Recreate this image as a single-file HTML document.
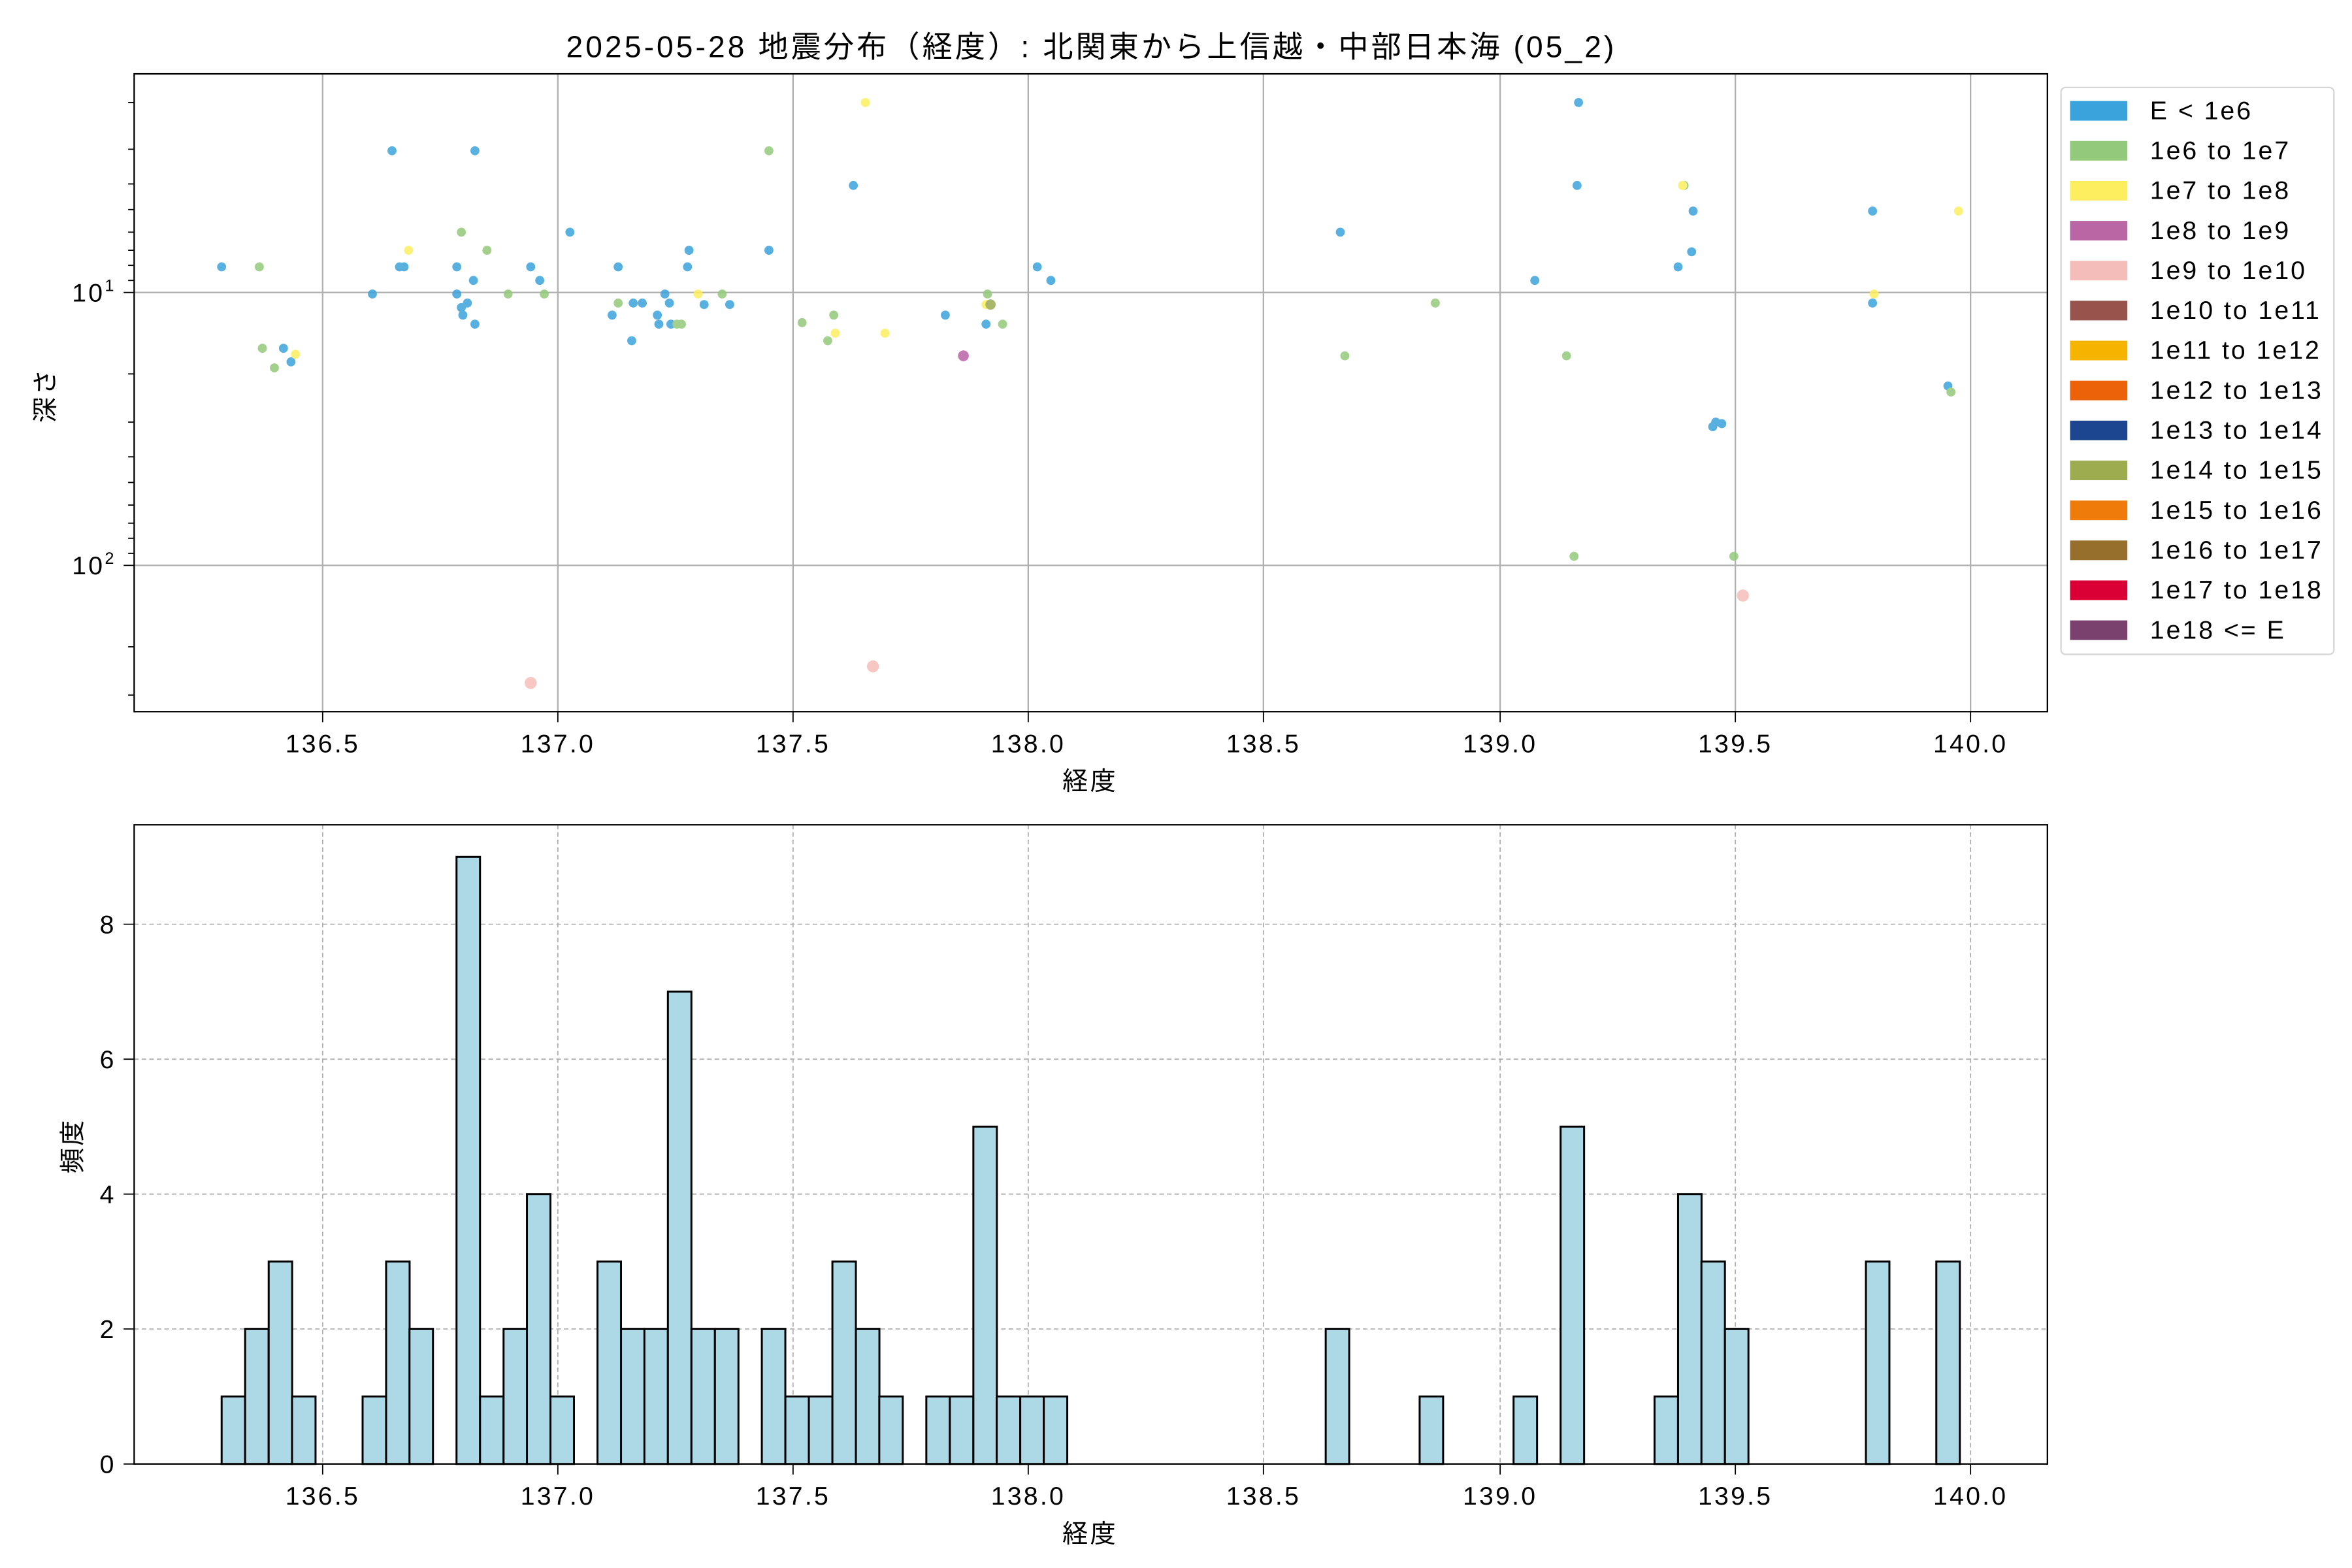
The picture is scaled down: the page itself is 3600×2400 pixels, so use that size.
<!DOCTYPE html>
<html><head><meta charset="utf-8"><style>html,body{margin:0;padding:0;background:#fff}svg{display:block}text{font-family:"Liberation Sans","Noto Sans CJK JP",sans-serif;fill:#000}</style></head><body>
<svg width="3600" height="2400" viewBox="0 0 1560 1040" xmlns="http://www.w3.org/2000/svg">
<rect width="1560" height="1040" fill="#fff"/>
<text x="723" y="38" font-size="20" text-anchor="middle" textLength="695" lengthAdjust="spacing">2025-05-28 地震分布（経度）: 北関東から上信越・中部日本海 (05_2)</text>
<!-- top axes -->
<g stroke="#b0b0b0" stroke-width="1">
<line x1="214" y1="49" x2="214" y2="472"/><line x1="370" y1="49" x2="370" y2="472"/><line x1="526" y1="49" x2="526" y2="472"/><line x1="682" y1="49" x2="682" y2="472"/><line x1="838" y1="49" x2="838" y2="472"/><line x1="995" y1="49" x2="995" y2="472"/><line x1="1151" y1="49" x2="1151" y2="472"/><line x1="1307" y1="49" x2="1307" y2="472"/>
<line x1="89" y1="194" x2="1358" y2="194"/><line x1="89" y1="375" x2="1358" y2="375"/>
</g>
<g stroke="#000" stroke-width="0.8">
<line x1="85" y1="68" x2="89" y2="68"/><line x1="85" y1="99" x2="89" y2="99"/><line x1="85" y1="122" x2="89" y2="122"/><line x1="85" y1="139" x2="89" y2="139"/><line x1="85" y1="154" x2="89" y2="154"/><line x1="85" y1="166" x2="89" y2="166"/><line x1="85" y1="176" x2="89" y2="176"/><line x1="85" y1="186" x2="89" y2="186"/>
<line x1="85" y1="248" x2="89" y2="248"/><line x1="85" y1="280" x2="89" y2="280"/><line x1="85" y1="303" x2="89" y2="303"/><line x1="85" y1="320" x2="89" y2="320"/><line x1="85" y1="335" x2="89" y2="335"/><line x1="85" y1="347" x2="89" y2="347"/><line x1="85" y1="357" x2="89" y2="357"/><line x1="85" y1="367" x2="89" y2="367"/>
<line x1="85" y1="429" x2="89" y2="429"/><line x1="85" y1="461" x2="89" y2="461"/>
<line x1="82" y1="194" x2="89" y2="194"/><line x1="82" y1="375" x2="89" y2="375"/>
<line x1="214" y1="472" x2="214" y2="479"/><line x1="370" y1="472" x2="370" y2="479"/><line x1="526" y1="472" x2="526" y2="479"/><line x1="682" y1="472" x2="682" y2="479"/><line x1="838" y1="472" x2="838" y2="479"/><line x1="995" y1="472" x2="995" y2="479"/><line x1="1151" y1="472" x2="1151" y2="479"/><line x1="1307" y1="472" x2="1307" y2="479"/>
</g>
<g font-size="17" letter-spacing="1.4">
<text x="77" y="200" text-anchor="end">10<tspan font-size="11" dy="-7">1</tspan></text>
<text x="77" y="381" text-anchor="end">10<tspan font-size="11" dy="-7">2</tspan></text>
<g text-anchor="middle"><text x="214" y="499">136.5</text><text x="370" y="499">137.0</text><text x="526" y="499">137.5</text><text x="682" y="499">138.0</text><text x="838" y="499">138.5</text><text x="995" y="499">139.0</text><text x="1151" y="499">139.5</text><text x="1307" y="499">140.0</text></g>
<text x="723" y="524" text-anchor="middle">経度</text>
<text transform="translate(36,262) rotate(-90)" text-anchor="middle">深さ</text>
</g>
<g opacity="0.85">
<g fill="#3ba3dc">
<circle cx="147" cy="177" r="3"/><circle cx="188" cy="231" r="3"/><circle cx="193" cy="240" r="3"/><circle cx="247" cy="195" r="3"/><circle cx="260" cy="100" r="3"/><circle cx="265" cy="177" r="3"/><circle cx="268" cy="177" r="3"/><circle cx="303" cy="177" r="3"/><circle cx="303" cy="195" r="3"/><circle cx="306" cy="204" r="3"/><circle cx="307" cy="209" r="3"/><circle cx="310" cy="201" r="3"/><circle cx="314" cy="186" r="3"/><circle cx="315" cy="100" r="3"/><circle cx="315" cy="215" r="3"/><circle cx="352" cy="177" r="3"/><circle cx="358" cy="186" r="3"/><circle cx="378" cy="154" r="3"/><circle cx="406" cy="209" r="3"/><circle cx="410" cy="177" r="3"/><circle cx="420" cy="201" r="3"/><circle cx="426" cy="201" r="3"/><circle cx="419" cy="226" r="3"/><circle cx="436" cy="209" r="3"/><circle cx="437" cy="215" r="3"/><circle cx="441" cy="195" r="3"/><circle cx="444" cy="201" r="3"/><circle cx="445" cy="215" r="3"/><circle cx="456" cy="177" r="3"/><circle cx="457" cy="166" r="3"/><circle cx="467" cy="202" r="3"/><circle cx="484" cy="202" r="3"/><circle cx="510" cy="166" r="3"/><circle cx="566" cy="123" r="3"/><circle cx="627" cy="209" r="3"/><circle cx="654" cy="215" r="3"/><circle cx="688" cy="177" r="3"/><circle cx="697" cy="186" r="3"/><circle cx="889" cy="154" r="3"/><circle cx="1018" cy="186" r="3"/><circle cx="1047" cy="68" r="3"/><circle cx="1046" cy="123" r="3"/><circle cx="1123" cy="140" r="3"/><circle cx="1122" cy="167" r="3"/><circle cx="1113" cy="177" r="3"/><circle cx="1242" cy="201" r="3"/><circle cx="1292" cy="256" r="3"/><circle cx="1136" cy="283" r="3"/><circle cx="1142" cy="281" r="3"/><circle cx="1138" cy="280" r="3"/><circle cx="1242" cy="140" r="3"/>
</g>
<g fill="#93c97a">
<circle cx="172" cy="177" r="3"/><circle cx="174" cy="231" r="3"/><circle cx="182" cy="244" r="3"/><circle cx="306" cy="154" r="3"/><circle cx="323" cy="166" r="3"/><circle cx="337" cy="195" r="3"/><circle cx="361" cy="195" r="3"/><circle cx="410" cy="201" r="3"/><circle cx="449" cy="215" r="3"/><circle cx="452" cy="215" r="3"/><circle cx="479" cy="195" r="3"/><circle cx="510" cy="100" r="3"/><circle cx="532" cy="214" r="3"/><circle cx="553" cy="209" r="3"/><circle cx="549" cy="226" r="3"/><circle cx="655" cy="195" r="3"/><circle cx="665" cy="215" r="3"/><circle cx="892" cy="236" r="3"/><circle cx="952" cy="201" r="3"/><circle cx="1039" cy="236" r="3"/><circle cx="1044" cy="369" r="3"/><circle cx="1150" cy="369" r="3"/><circle cx="1294" cy="260" r="3"/><circle cx="1117" cy="123" r="3"/>
</g>
<g fill="#fdee60">
<circle cx="271" cy="166" r="3"/><circle cx="196" cy="235" r="3"/><circle cx="463" cy="195" r="3"/><circle cx="574" cy="68" r="3"/><circle cx="554" cy="221" r="3"/><circle cx="587" cy="221" r="3"/><circle cx="1116" cy="123" r="3"/><circle cx="1299" cy="140" r="3"/><circle cx="1243" cy="195" r="3"/><circle cx="654" cy="202" r="3"/>
</g>
<circle cx="639" cy="236" r="3.6" fill="#b862a6"/>
<circle cx="657" cy="202" r="3.4" fill="#9aab52"/>
<g fill="#f5bdb9"><circle cx="352" cy="453" r="4"/><circle cx="579" cy="442" r="4"/><circle cx="1156" cy="395" r="4"/></g>
</g>
<rect x="89" y="49" width="1269" height="423" fill="none" stroke="#000" stroke-width="1"/>
<!-- legend -->
<rect x="1367" y="58" width="181" height="376" rx="3" fill="#fff" stroke="#d6d6d6" stroke-width="1"/>
<g>
<rect x="1373" y="67" width="38" height="13" fill="#3ba3dc"/><rect x="1373" y="93.5" width="38" height="13" fill="#93c97a"/><rect x="1373" y="120" width="38" height="13" fill="#fdee60"/><rect x="1373" y="146.5" width="38" height="13" fill="#bb66a4"/><rect x="1373" y="173" width="38" height="13" fill="#f5bdb9"/><rect x="1373" y="199.5" width="38" height="13" fill="#97534c"/><rect x="1373" y="226" width="38" height="13" fill="#f6b300"/><rect x="1373" y="252.5" width="38" height="13" fill="#eb6208"/><rect x="1373" y="279" width="38" height="13" fill="#1c4790"/><rect x="1373" y="305.5" width="38" height="13" fill="#9dac4f"/><rect x="1373" y="332" width="38" height="13" fill="#ef7b0a"/><rect x="1373" y="358.5" width="38" height="13" fill="#976f2c"/><rect x="1373" y="385" width="38" height="13" fill="#da0036"/><rect x="1373" y="411.5" width="38" height="13" fill="#7a416e"/>
</g>
<g font-size="17" letter-spacing="1.3">
<text x="1426" y="79">E &lt; 1e6</text><text x="1426" y="105.5">1e6 to 1e7</text><text x="1426" y="132">1e7 to 1e8</text><text x="1426" y="158.5">1e8 to 1e9</text><text x="1426" y="185">1e9 to 1e10</text><text x="1426" y="211.5">1e10 to 1e11</text><text x="1426" y="238">1e11 to 1e12</text><text x="1426" y="264.5">1e12 to 1e13</text><text x="1426" y="291">1e13 to 1e14</text><text x="1426" y="317.5">1e14 to 1e15</text><text x="1426" y="344">1e15 to 1e16</text><text x="1426" y="370.5">1e16 to 1e17</text><text x="1426" y="397">1e17 to 1e18</text><text x="1426" y="423.5">1e18 &lt;= E</text>
</g>
<!-- bottom axes -->
<g stroke="#b0b0b0" stroke-width="0.8" stroke-dasharray="3,2">
<line x1="214" y1="547" x2="214" y2="971"/><line x1="370" y1="547" x2="370" y2="971"/><line x1="526" y1="547" x2="526" y2="971"/><line x1="682" y1="547" x2="682" y2="971"/><line x1="838" y1="547" x2="838" y2="971"/><line x1="995" y1="547" x2="995" y2="971"/><line x1="1151" y1="547" x2="1151" y2="971"/><line x1="1307" y1="547" x2="1307" y2="971"/>
<line x1="89" y1="881.5" x2="1358" y2="881.5"/><line x1="89" y1="792" x2="1358" y2="792"/><line x1="89" y1="702.5" x2="1358" y2="702.5"/><line x1="89" y1="613" x2="1358" y2="613"/>
</g>
<g fill="#add8e6" stroke="#000" stroke-width="1.3">
<rect x="147.0" y="926.25" width="15.58" height="44.75"/>
<rect x="162.6" y="881.5" width="15.58" height="89.5"/>
<rect x="178.2" y="836.75" width="15.58" height="134.25"/>
<rect x="193.7" y="926.25" width="15.58" height="44.75"/>
<rect x="240.5" y="926.25" width="15.58" height="44.75"/>
<rect x="256.1" y="836.75" width="15.58" height="134.25"/>
<rect x="271.6" y="881.5" width="15.58" height="89.5"/>
<rect x="302.8" y="568.25" width="15.58" height="402.75"/>
<rect x="318.4" y="926.25" width="15.58" height="44.75"/>
<rect x="334.0" y="881.5" width="15.58" height="89.5"/>
<rect x="349.5" y="792" width="15.58" height="179"/>
<rect x="365.1" y="926.25" width="15.58" height="44.75"/>
<rect x="396.3" y="836.75" width="15.58" height="134.25"/>
<rect x="411.9" y="881.5" width="15.58" height="89.5"/>
<rect x="427.4" y="881.5" width="15.58" height="89.5"/>
<rect x="443.0" y="657.75" width="15.58" height="313.25"/>
<rect x="458.6" y="881.5" width="15.58" height="89.5"/>
<rect x="474.2" y="881.5" width="15.58" height="89.5"/>
<rect x="505.3" y="881.5" width="15.58" height="89.5"/>
<rect x="520.9" y="926.25" width="15.58" height="44.75"/>
<rect x="536.5" y="926.25" width="15.58" height="44.75"/>
<rect x="552.1" y="836.75" width="15.58" height="134.25"/>
<rect x="567.7" y="881.5" width="15.58" height="89.5"/>
<rect x="583.2" y="926.25" width="15.58" height="44.75"/>
<rect x="614.4" y="926.25" width="15.58" height="44.75"/>
<rect x="630.0" y="926.25" width="15.58" height="44.75"/>
<rect x="645.6" y="747.25" width="15.58" height="223.75"/>
<rect x="661.1" y="926.25" width="15.58" height="44.75"/>
<rect x="676.7" y="926.25" width="15.58" height="44.75"/>
<rect x="692.3" y="926.25" width="15.58" height="44.75"/>
<rect x="879.3" y="881.5" width="15.58" height="89.5"/>
<rect x="941.6" y="926.25" width="15.58" height="44.75"/>
<rect x="1003.9" y="926.25" width="15.58" height="44.75"/>
<rect x="1035.1" y="747.25" width="15.58" height="223.75"/>
<rect x="1097.4" y="926.25" width="15.58" height="44.75"/>
<rect x="1113.0" y="792" width="15.58" height="179"/>
<rect x="1128.5" y="836.75" width="15.58" height="134.25"/>
<rect x="1144.1" y="881.5" width="15.58" height="89.5"/>
<rect x="1237.6" y="836.75" width="15.58" height="134.25"/>
<rect x="1284.3" y="836.75" width="15.58" height="134.25"/>
</g>
<rect x="89" y="547" width="1269" height="424" fill="none" stroke="#000" stroke-width="1"/>
<g stroke="#000" stroke-width="0.8">
<line x1="82" y1="971" x2="89" y2="971"/><line x1="82" y1="881.5" x2="89" y2="881.5"/><line x1="82" y1="792" x2="89" y2="792"/><line x1="82" y1="702.5" x2="89" y2="702.5"/><line x1="82" y1="613" x2="89" y2="613"/>
<line x1="214" y1="971" x2="214" y2="978"/><line x1="370" y1="971" x2="370" y2="978"/><line x1="526" y1="971" x2="526" y2="978"/><line x1="682" y1="971" x2="682" y2="978"/><line x1="838" y1="971" x2="838" y2="978"/><line x1="995" y1="971" x2="995" y2="978"/><line x1="1151" y1="971" x2="1151" y2="978"/><line x1="1307" y1="971" x2="1307" y2="978"/>
</g>
<g font-size="17" letter-spacing="1.4">
<g text-anchor="end"><text x="77" y="977">0</text><text x="77" y="887.5">2</text><text x="77" y="798">4</text><text x="77" y="708.5">6</text><text x="77" y="619">8</text></g>
<g text-anchor="middle"><text x="214" y="998">136.5</text><text x="370" y="998">137.0</text><text x="526" y="998">137.5</text><text x="682" y="998">138.0</text><text x="838" y="998">138.5</text><text x="995" y="998">139.0</text><text x="1151" y="998">139.5</text><text x="1307" y="998">140.0</text></g>
<text x="723" y="1023" text-anchor="middle">経度</text>
<text transform="translate(54,760) rotate(-90)" text-anchor="middle">頻度</text>
</g>
</svg>
</body></html>
